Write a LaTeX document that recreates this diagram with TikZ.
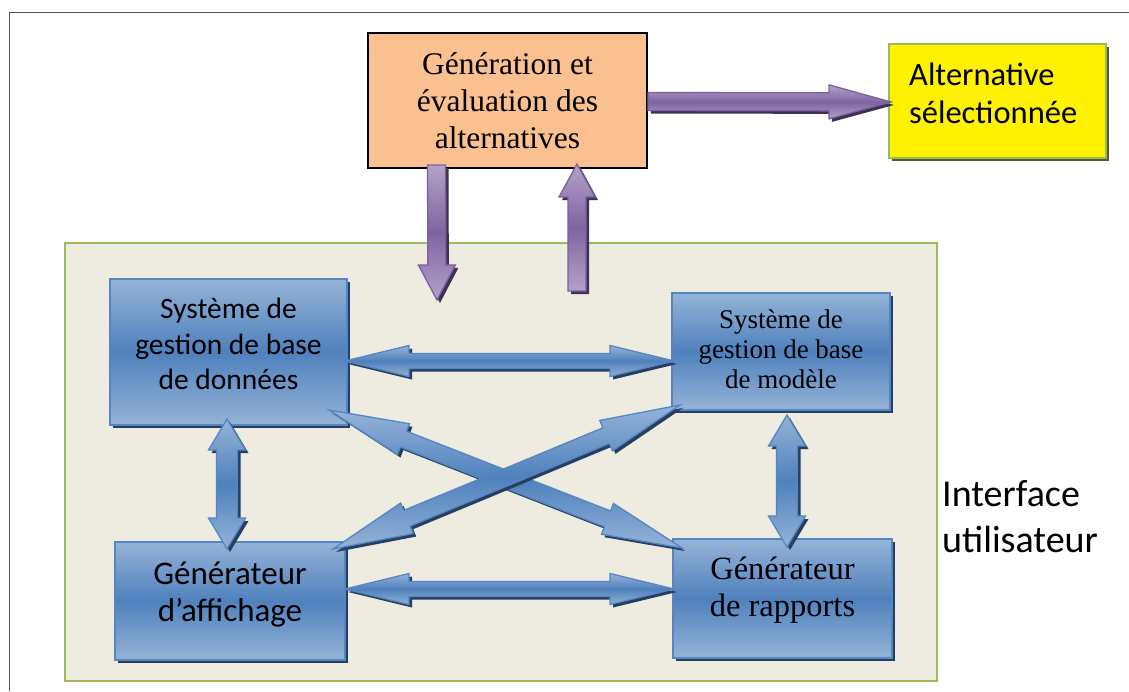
\documentclass[tikz,border=0pt]{standalone}
\usepackage{fontspec}
\setmainfont{Liberation Serif}
\newfontfamily\calib{Carlito}
\usetikzlibrary{calc,shadows}

\definecolor{blight}{HTML}{95B3D7}
\definecolor{bmid}{HTML}{4F81BD}
\definecolor{bline}{HTML}{5585C2}
\definecolor{bshadow}{HTML}{243F60}
\definecolor{plight}{HTML}{B3A2C7}
\definecolor{pmid}{HTML}{8064A2}
\definecolor{pline}{HTML}{7D60A0}
\definecolor{pshadow}{HTML}{3F3151}
\definecolor{peach}{HTML}{FAC090}
\definecolor{leafgreen}{HTML}{9BBB59}
\definecolor{leafshadow}{HTML}{4F6228}
\definecolor{panel}{HTML}{EEECE1}
\definecolor{framegray}{HTML}{555555}

% Block arrow from #1 to #2: head length #3, head half width #4,
% shaft half width #5, both ends (1) or end only (0)
\newcommand\blockarrow[6]{%
  \path let \p1=(#1), \p2=(#2) in \pgfextra{%
    \pgfmathsetmacro\tmpang{atan2(\y2-\y1,\x2-\x1)}\xdef\baang{\tmpang}%
    \pgfmathsetmacro\tmplen{veclen(\x2-\x1,\y2-\y1)}\xdef\balen{\tmplen}%
    \xdef\bax{\x1}\xdef\bay{\y1}};
  \pgfmathsetmacro\bab{\balen-#3}%
  \ifnum#6=1
    \def\baoutline{(0pt,0pt) -- (#3pt,#4pt) -- (#3pt,#5pt) -- (\bab pt,#5pt) -- (\bab pt,#4pt) -- (\balen pt,0pt) -- (\bab pt,-#4pt) -- (\bab pt,-#5pt) -- (#3pt,-#5pt) -- (#3pt,-#4pt) -- cycle}%
  \else
    \def\baoutline{(0pt,#5pt) -- (\bab pt,#5pt) -- (\bab pt,#4pt) -- (\balen pt,0pt) -- (\bab pt,-#4pt) -- (\bab pt,-#5pt) -- (0pt,-#5pt) -- cycle}%
  \fi
}
% paints the last outline with its shadow, in colour set #1
\newcommand\paintarrow[1]{%
  \begin{scope}[shift={(\bax+3pt,\bay-3pt)}, rotate=\baang]
    \fill[#1 shadow] \baoutline;
  \end{scope}
  \begin{scope}[shift={(\bax,\bay)}, rotate=\baang]
    \path[#1 arrow] \baoutline;
  \end{scope}
}

\begin{document}
\begin{tikzpicture}[x=1pt,y=-1pt,
  blue shadow/.style={fill=bshadow},
  blue arrow/.style={draw=bline, line width=1.3pt, line join=miter,
    top color=blight, bottom color=blight, middle color=bmid},
  purple shadow/.style={fill=pshadow},
  purple arrow/.style={draw=pline, line width=1.3pt, line join=miter,
    top color=plight, bottom color=plight, middle color=pmid},
  box/.style={inner sep=0pt, outer sep=0pt},
  bluebox/.style={box, draw=bline, line width=1.5pt,
    top color=blight, bottom color=blight, middle color=bmid,
    drop shadow={shadow xshift=3pt, shadow yshift=-3pt, fill=bshadow, opacity=1}},
  txt/.style={inner sep=0pt, align=center, text=black},
  calib29/.style={font=\calib\fontsize{29.5}{35.5}\selectfont},
  calib32/.style={font=\calib\fontsize{32.5}{38}\selectfont},
  calib33/.style={font=\calib\fontsize{33}{37}\selectfont},
  calib38/.style={font=\calib\fontsize{38}{46}\selectfont},
  times27/.style={font=\fontsize{27}{30}\selectfont},
  times31/.style={font=\fontsize{31.5}{37}\selectfont},
  times32/.style={font=\fontsize{32.5}{37}\selectfont},
]
\useasboundingbox (0,0) rectangle (1129,691);
\fill[white] (0,0) rectangle (1129,691);

% page frame
\draw[framegray, line width=1pt] (9,691) -- (9,12) -- (1129,12);

% user interface panel
\node[box, draw=leafgreen, line width=2pt, fill=panel,
  minimum width=872pt, minimum height=438pt] (iface) at (501,462) {};
\node[txt, calib38, align=left, anchor=west] (ifacetxt) at (942,517) {Interface\\utilisateur};

% generation box and selected alternative
\node[box, draw=black, line width=2pt, fill=peach,
  minimum width=279pt, minimum height=135pt] (gen) at (507.5,100.5) {};
\node[txt, times31] (gentxt) at (gen.center) {Génération et\\évaluation des\\alternatives};

\node[box, draw=leafgreen, line width=2pt, fill=yellow,
  minimum width=217pt, minimum height=114pt,
  drop shadow={shadow xshift=3pt, shadow yshift=-3pt, fill=leafshadow, opacity=1}] (alt) at (997.5,101) {};
\node[txt, calib32, align=left, anchor=west] (alttxt) at (909,93) {Alternative\\sélectionnée};

% purple arrows
\coordinate (downa) at ($(gen.south)+(-71,-3)$);
\coordinate (downb) at ($(iface.north)+(-64,57)$);
\coordinate (upa) at ($(iface.north)+(76,48)$);
\coordinate (upb) at ($(gen.south)+(69.5,-4)$);
\coordinate (righta) at ($(gen.east)+(1,1)$);
\coordinate (rightb) at ($(alt.west)+(2,1)$);
\blockarrow{downa}{downb}{35}{18.5}{9}{0}\paintarrow{purple}
\blockarrow{upa}{upb}{33}{18}{9}{0}\paintarrow{purple}
\blockarrow{righta}{rightb}{62}{17}{9}{0}\paintarrow{purple}

% blue modules
\node[bluebox, minimum width=237pt, minimum height=146pt] (sgbd) at (228.5,352) {};
\node[txt, calib29, yshift=8pt] (sgbdtxt) at (sgbd.center) {Système de\\gestion de base\\de données};

\node[bluebox, minimum width=218pt, minimum height=117pt] (sgbm) at (781,351.5) {};
\node[txt, times27, yshift=2pt] (sgbmtxt) at (sgbm.center) {Système de\\gestion de base\\de modèle};

\node[bluebox, minimum width=230pt, minimum height=118pt] (gaff) at (230,601) {};
\node[txt, calib33, yshift=6pt] (gafftxt) at (gaff.center) {Générateur\\d’affichage};

\node[bluebox, minimum width=219pt, minimum height=119pt] (grap) at (782.5,598.5) {};
\node[txt, times32, yshift=8pt] (graptxt) at (grap.center) {Générateur\\de rapports};

% blue two-way arrows
\coordinate (h1a) at ($(sgbd.east)+(-2,9)$);
\coordinate (h1b) at ($(sgbm.west)+(2,9.5)$);
\coordinate (h2a) at ($(gaff.east)+(0,-12)$);
\coordinate (h2b) at ($(grap.west)+(1,-9.5)$);
\coordinate (v1a) at ($(sgbd.south)+(-1.5,-6)$);
\coordinate (v1b) at ($(gaff.north)+(-3,7)$);
\coordinate (v2a) at ($(sgbm.south)+(6,5)$);
\coordinate (v2b) at ($(grap.north)+(4.5,8)$);
\coordinate (d1a) at ($(sgbd.south east)+(-18,-15)$);
\coordinate (d1b) at ($(grap.north west)+(9,9)$);
\coordinate (d2a) at ($(sgbm.south west)+(8,-5)$);
\coordinate (d2b) at ($(gaff.north east)+(-12,7)$);
\blockarrow{h1a}{h1b}{64}{15.5}{7.5}{1}\paintarrow{blue}
\blockarrow{h2a}{h2b}{64}{15.5}{7.5}{1}\paintarrow{blue}
\blockarrow{v1a}{v1b}{31}{18.5}{10.5}{1}\paintarrow{blue}
\blockarrow{v2a}{v2b}{31}{18.5}{10.5}{1}\paintarrow{blue}
\blockarrow{d1a}{d1b}{80}{16.5}{8.5}{1}\paintarrow{blue}
\blockarrow{d2a}{d2b}{80}{16.5}{8.5}{1}\paintarrow{blue}
\end{tikzpicture}
\end{document}
